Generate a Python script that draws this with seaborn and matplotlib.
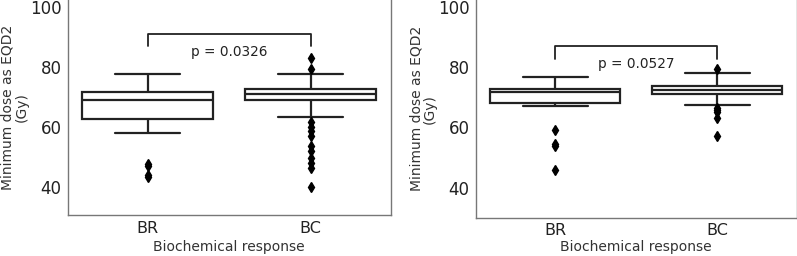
import matplotlib
matplotlib.use("Agg")
import matplotlib.pyplot as plt
import seaborn as sns
import pandas as pd

categories = ["BR", "BC"]

# Panel 1 (left) raw values
left_BR = [43.1, 43.8, 46.9, 47.6, 57.7, 62.6, 64.0, 65.5, 66.8, 68.0, 69.0,
           69.6, 70.2, 70.7, 71.1, 71.5, 72.8, 74.0, 75.5, 76.6, 77.6]
left_BC = [39.8, 46.3, 48.0, 49.5, 52.0, 53.5, 57.0, 58.5, 60.0, 61.5, 63.3,
           68.7, 69.0, 69.2, 69.4, 69.6, 69.8, 70.0, 70.2, 70.4, 70.5, 70.7,
           70.8, 70.9, 71.0, 71.2, 71.3, 71.5, 71.7, 71.9, 72.1, 72.3, 72.5,
           72.6, 73.0, 73.4, 74.0, 74.6, 75.2, 75.9, 76.5, 77.1, 77.6, 79.2, 82.8]

# Panel 2 (right)
right_BR = [45.9, 53.7, 54.6, 59.3, 67.2, 68.2, 69.0, 69.8, 70.6, 71.3, 71.9,
            72.1, 72.3, 72.5, 72.7, 72.8, 73.5, 74.3, 75.2, 76.0, 76.7]
right_BC = [57.3, 63.0, 65.2, 65.8, 66.5, 67.4, 71.1, 71.4, 71.7, 72.0, 72.2,
            72.4, 72.6, 72.8, 73.1, 73.3, 73.5, 73.7, 73.9, 74.8, 75.7, 76.6,
            77.3, 78.0, 79.3]

p_texts = ["p = 0.0326", "p = 0.0527"]
bracket_top = [91.0, 87.1]
bracket_leg = [86.7, 82.8]
p_text_y = [84.8, 81.1]

yticks = [40, 60, 80, 100]
ylims = [(30.5, 102.2), (30.0, 102.4)]
xlabel_pads = [3.0, 1.5]

sns.set_style("white")
plt.rcParams["font.family"] = ["DejaVu Sans"]

fig = plt.figure(figsize=(7.97, 2.56), dpi=100)
ax1 = fig.add_axes([0.0849, 0.1602, 0.4053, 0.8398])
ax2 = fig.add_axes([0.5969, 0.1496, 0.4028, 0.8504])

panels = [(ax1, left_BR, left_BC), (ax2, right_BR, right_BC)]
line_c = "#222222"
for i, (ax, br, bc) in enumerate(panels):
    df = pd.DataFrame({
        "group": [categories[0]] * len(br) + [categories[1]] * len(bc),
        "value": br + bc,
    })
    sns.boxplot(data=df, x="group", y="value", order=categories, ax=ax,
                color="white", linecolor=line_c, linewidth=1.6, width=0.8,
                flierprops=dict(marker="d", markerfacecolor="black",
                                markeredgecolor="black", markersize=5))
    ax.set_ylim(*ylims[i])
    ax.set_yticks(yticks)
    ax.set_ylabel("Minimum dose as EQD2\n(Gy)", fontsize=10, color="#333333",
                  labelpad=1, linespacing=0.95)
    ax.set_xlabel("Biochemical response", fontsize=10, color="#333333",
                  labelpad=xlabel_pads[i])
    ax.tick_params(axis="y", labelsize=12, length=2.5, width=0.8, pad=2,
                   color="#777777", labelcolor="#222222")
    ax.tick_params(axis="x", labelsize=11.5, length=2.5, width=0.8, pad=1.5,
                   color="#777777", labelcolor="#222222")
    for s in ["left", "right", "bottom"]:
        ax.spines[s].set_color("#777777")
        ax.spines[s].set_linewidth(1.0)
    ax.spines["top"].set_visible(False)
    ax.plot([0, 0, 1, 1], [bracket_leg[i], bracket_top[i], bracket_top[i], bracket_leg[i]],
            color=line_c, linewidth=1.3)
    ax.text(0.5, p_text_y[i], p_texts[i], ha="center", va="center", fontsize=9.8,
            color="#222222")

fig.savefig("out.png", dpi=100)
